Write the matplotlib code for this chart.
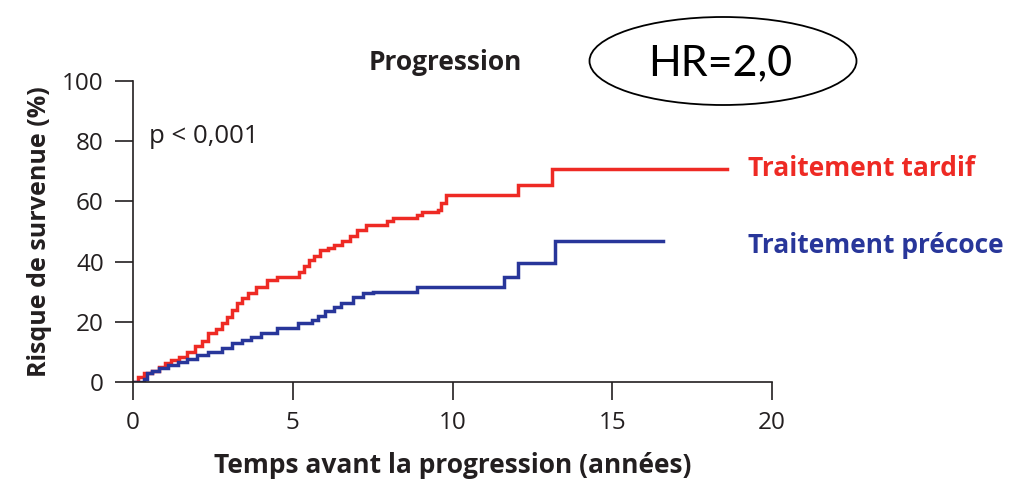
import matplotlib
matplotlib.use("Agg")
import matplotlib.pyplot as plt
from matplotlib.patches import Ellipse

# ---- data ----
late_t = [0, 0.15, 0.35, 0.6, 0.8, 1.0, 1.2, 1.45, 1.7, 1.95, 2.15, 2.35, 2.6, 2.8, 2.95,
          3.1, 3.25, 3.4, 3.6, 3.85, 4.2, 4.5, 5.2, 5.35, 5.5, 5.65, 5.85, 6.1, 6.3, 6.55,
          6.8, 7.0, 7.3, 7.95, 8.15, 8.9, 9.05, 9.55, 9.65, 9.8, 12.05, 13.1, 18.6]
late_v = [0, 1.5, 3, 3.5, 5, 6.3, 7.3, 8.3, 10, 12, 13.5, 16.2, 17.5, 19.5, 21.6,
          24, 26.2, 28, 29.5, 31.5, 33.8, 34.8, 36.5, 38.5, 40.5, 42, 43.8, 44.5, 45.4, 47,
          48.5, 50.4, 52, 53.5, 54.4, 55.5, 56.4, 57, 59.4, 62, 65.5, 70.6, 70.6]

early_t = [0, 0.35, 0.45, 0.6, 0.8, 1.1, 1.4, 1.7, 2.0, 2.35, 2.8, 3.1, 3.4, 3.7, 4.0,
           4.5, 5.15, 5.6, 5.8, 6.0, 6.3, 6.5, 6.9, 7.2, 7.5, 8.9, 11.6, 12.05, 13.2, 16.6]
early_v = [0, 1, 3, 3.5, 4.5, 5.5, 6.5, 7.8, 9, 10, 11.3, 12.9, 14, 15, 16.2,
           17.9, 19.6, 20.6, 22, 23.5, 25, 26.2, 28.2, 29.5, 30, 31.5, 34.8, 39.5, 47, 47]

x_ticks = [0, 5, 10, 15, 20]
y_ticks = [0, 20, 40, 60, 80, 100]
series_labels = ["Traitement tardif", "Traitement précoce"]

RED = "#EE2A24"
BLUE = "#28369A"
TXT = "#231F20"
FONT = "Open Sans"

plt.rcParams["font.family"] = [FONT, "DejaVu Sans"]

fig = plt.figure(figsize=(10.25, 4.87), dpi=100)
ax = fig.add_axes([133 / 1025, 1 - 382 / 487, 639 / 1025, 301 / 487])

ax.step(late_t, late_v, where="post", color=RED, lw=2.5, solid_joinstyle="miter")
ax.step(early_t, early_v, where="post", color=BLUE, lw=2.5, solid_joinstyle="miter")

ax.set_xlim(0, 20)
ax.set_ylim(0, 100)
ax.set_xticks(x_ticks)
ax.set_yticks(y_ticks)
ax.tick_params(direction="out", length=13, width=1.2, colors=TXT, labelsize=17.5, pad=8)
for s in ["top", "right"]:
    ax.spines[s].set_visible(False)
for s in ["left", "bottom"]:
    ax.spines[s].set_linewidth(1.2)
    ax.spines[s].set_color(TXT)

ax.set_xlabel("Temps avant la progression (années)", fontsize=19, fontweight="bold",
              color=TXT, labelpad=12)
ax.set_ylabel("Risque de survenue (%)", fontsize=18, fontweight="bold", color=TXT,
              labelpad=7)

fig.text(445 / 1025, 1 - 63 / 487, "Progression", ha="center", va="center",
         fontsize=19, fontweight="bold", color=TXT)
ax.text(0.5, 81.5, "p < 0,001", ha="left", va="center", fontsize=18.5, color=TXT)

ax.text(19.25, 71, series_labels[0], ha="left", va="center", fontsize=19,
        fontweight="bold", color=RED, clip_on=False)
ax.text(19.25, 45.5, series_labels[1], ha="left", va="center", fontsize=19,
        fontweight="bold", color=BLUE, clip_on=False)

ell = Ellipse((723 / 1025, 1 - 61 / 487), 267 / 1025, 88 / 487, transform=fig.transFigure,
              facecolor="white", edgecolor="black", lw=1.3)
fig.patches.append(ell)
fig.text(720 / 1025, 1 - 63 / 487, "HR=2,0", ha="center", va="center", fontsize=31,
         family=["Lato", "DejaVu Sans"], color="black")

fig.savefig("out.png", dpi=100)
